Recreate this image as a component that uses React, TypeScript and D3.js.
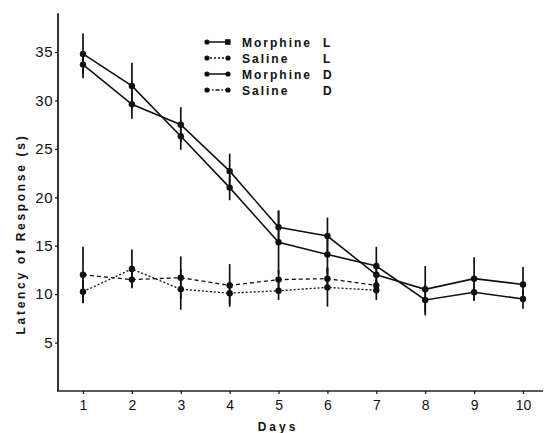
import React, { useRef, useEffect } from 'react';
import * as d3 from 'd3';

const days = [1, 2, 3, 4, 5, 6, 7, 8, 9, 10];
const salineDays = [1, 2, 3, 4, 5, 6, 7];

const morphineL = [34.8, 31.5, 26.3, 21.0, 15.35, 14.1, 12.9, 9.4, 10.2, 9.5];
const morphineLErr = [2.1, 2.4, 1.4, 1.3, 3.3, 1.9, 2.0, 1.6, 0.9, 1.0];
const morphineD = [33.7, 29.6, 27.5, 22.7, 16.9, 16.0, 12.0, 10.5, 11.6, 11.0];
const morphineDErr = [1.4, 1.5, 1.8, 1.8, 1.7, 1.9, 1.2, 2.4, 2.2, 1.8];
const salineL = [12.0, 11.5, 11.7, 10.9, 11.5, 11.6, 10.9];
const salineLErr = [2.9, 0.8, 2.2, 2.2, 1.0, 1.2, 0.5];
const salineD = [10.25, 12.6, 10.5, 10.1, 10.35, 10.7, 10.4];
const salineDErr = [1.2, 2.0, 2.1, 1.2, 0.95, 2.0, 1.0];

const yTicks = [5, 10, 15, 20, 25, 30, 35];

const legendItems = [
  { name: 'Morphine', tag: 'L', dash: null, end: 'square' },
  { name: 'Saline', tag: 'L', dash: '2,2', end: 'circle' },
  { name: 'Morphine', tag: 'D', dash: null, end: 'circle' },
  { name: 'Saline', tag: 'D', dash: '4,2,1.5,2', end: 'circle' },
];

const App = () => {
  const svgRef = useRef(null);

  useEffect(() => {
    const width = 544;
    const height = 433;
    const svg = d3.select(svgRef.current);
    svg.selectAll('*').remove();
    svg.attr('viewBox', `0 0 ${width} ${height}`);

    const x = d3.scaleLinear().domain([1, 10]).range([83, 523]);
    const y = d3.scaleLinear().domain([0, 35]).range([391, 52]);
    const axisX = 58;
    const font = '"Liberation Sans", Arial, sans-serif';
    const ink = '#111';

    svg.append('rect').attr('width', width).attr('height', height).attr('fill', '#fff');

    // axes
    svg.append('line')
      .attr('x1', axisX).attr('x2', axisX)
      .attr('y1', y(39)).attr('y2', y(0))
      .attr('stroke', '#333').attr('stroke-width', 2);
    svg.append('line')
      .attr('x1', axisX - 1).attr('x2', width - 1)
      .attr('y1', y(0)).attr('y2', y(0))
      .attr('stroke', '#222').attr('stroke-width', 1.6);

    const yAxis = svg.append('g')
      .attr('transform', `translate(${axisX},0)`)
      .call(d3.axisLeft(y).tickValues(yTicks).tickSize(3).tickPadding(2));
    yAxis.select('.domain').remove();
    yAxis.selectAll('line').attr('stroke', ink).attr('stroke-width', 1.2);
    yAxis.selectAll('text')
      .attr('font-family', font).attr('font-size', 15).attr('fill', ink)
      .attr('letter-spacing', 0.5);

    const xAxis = svg.append('g')
      .attr('transform', `translate(0,${y(0)})`)
      .call(d3.axisBottom(x).tickValues(days).tickSize(3).tickPadding(6));
    xAxis.select('.domain').remove();
    xAxis.selectAll('line').attr('stroke', ink).attr('stroke-width', 1.2);
    xAxis.selectAll('text')
      .attr('font-family', font).attr('font-size', 14).attr('fill', ink);

    svg.append('text')
      .attr('x', 278).attr('y', 431)
      .attr('text-anchor', 'middle')
      .attr('font-family', font).attr('font-size', 12).attr('font-weight', 'bold')
      .attr('letter-spacing', 3).attr('fill', ink)
      .text('Days');

    svg.append('text')
      .attr('transform', `translate(25,${234}) rotate(-90)`)
      .attr('text-anchor', 'middle')
      .attr('font-family', font).attr('font-size', 12).attr('font-weight', 'bold')
      .attr('letter-spacing', 2.7).attr('fill', ink)
      .text('Latency of Response (s)');

    const series = [
      { xs: salineDays, v: salineL, e: salineLErr, dash: '4,3' },
      { xs: salineDays, v: salineD, e: salineDErr, dash: '2,2' },
      { xs: days, v: morphineL, e: morphineLErr, dash: null },
      { xs: days, v: morphineD, e: morphineDErr, dash: null },
    ];

    const line = d3.line<number>()
      .x((d, i) => x(days[i]))
      .y((d) => y(d));

    series.forEach((s) => {
      // error bars
      s.v.forEach((v, i) => {
        svg.append('line')
          .attr('x1', x(s.xs[i])).attr('x2', x(s.xs[i]))
          .attr('y1', y(v - s.e[i])).attr('y2', y(v + s.e[i]))
          .attr('stroke', ink).attr('stroke-width', 1.7);
      });
      svg.append('path')
        .datum(s.v)
        .attr('fill', 'none')
        .attr('stroke', ink)
        .attr('stroke-width', s.dash ? 1.3 : 1.6)
        .attr('stroke-dasharray', s.dash)
        .attr('d', line);
      s.v.forEach((v, i) => {
        svg.append('circle')
          .attr('cx', x(s.xs[i])).attr('cy', y(v))
          .attr('r', 3.2).attr('fill', ink);
      });
    });

    // legend
    const legend = svg.append('g').attr('transform', 'translate(206,42)');
    legendItems.forEach((item, i) => {
      const g = legend.append('g').attr('transform', `translate(0,${i * 16})`);
      g.append('line')
        .attr('x1', 0).attr('x2', 22).attr('y1', 0).attr('y2', 0)
        .attr('stroke', ink).attr('stroke-width', 1.5)
        .attr('stroke-dasharray', item.dash);
      g.append('circle').attr('cx', 1).attr('cy', 0).attr('r', 2.6).attr('fill', ink);
      if (item.end === 'square') {
        g.append('rect').attr('x', 19).attr('y', -2.8).attr('width', 5.6).attr('height', 5.6).attr('fill', ink);
      } else {
        g.append('circle').attr('cx', 22).attr('cy', 0).attr('r', 2.6).attr('fill', ink);
      }
      g.append('text')
        .attr('x', 36).attr('y', 4.5)
        .attr('font-family', font).attr('font-size', 12).attr('font-weight', 'bold')
        .attr('letter-spacing', 2).attr('fill', ink)
        .text(item.name);
      g.append('text')
        .attr('x', 117).attr('y', 4.5)
        .attr('font-family', font).attr('font-size', 12).attr('font-weight', 'bold')
        .attr('fill', ink)
        .text(item.tag);
    });
  }, []);

  return (
    <div style={{ position: 'fixed', left: 0, top: 0, width: 544, height: 433, background: '#fff' }}>
      <svg ref={svgRef} style={{ width: '544px', height: '433px', display: 'block' }} />
    </div>
  );
};

export default App;
